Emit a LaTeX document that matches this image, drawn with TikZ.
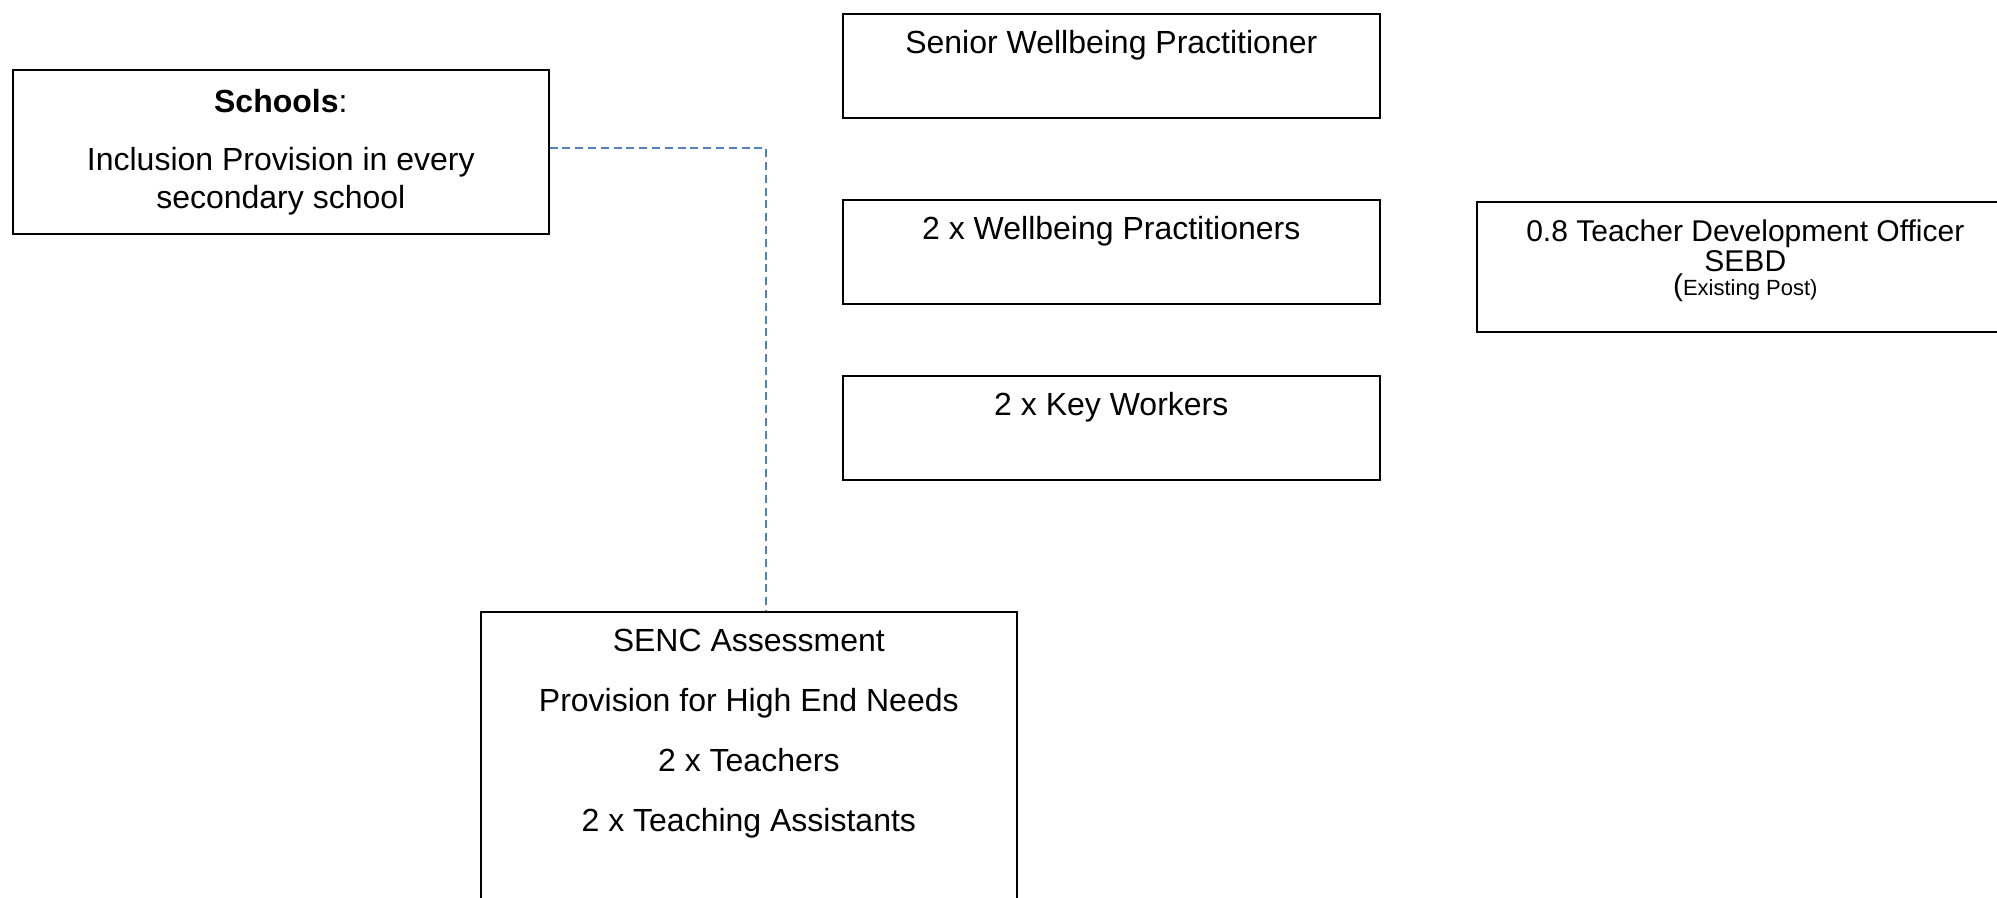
\documentclass[tikz,border=0pt]{standalone}
\usepackage{fontspec}
\setmainfont{Liberation Sans}
\usepackage{xcolor}
\usetikzlibrary{positioning}
\definecolor{linkblue}{HTML}{4F81BD}

% box text: [first line], width, height, lines
\newcommand{\unittext}[4][20pt]{\parbox[t][#3][t]{#2}{\centering\fontsize{16}{19}\selectfont\rule{0pt}{#1}#4}}

\tikzset{
    unit/.style={draw, line width=0.8pt, inner sep=0pt, anchor=north west},
    link/.style={draw=linkblue, line width=0.7pt, dash pattern=on 4pt off 2.4pt}
}

\begin{document}
\begin{tikzpicture}[x=0.5pt, y=-0.5pt]
    \useasboundingbox (0,0) rectangle (1997,898);

    % Schools
    \node[unit] (schools) at (12,69) {\unittext[21.5pt]{268pt}{82pt}{\textbf{Schools}:\\[10pt]Inclusion Provision in every\\secondary school}};

    % Wellbeing team
    \node[unit] (senior) at (842,13) {\unittext{268.5pt}{52pt}{Senior Wellbeing Practitioner}};
    \node[unit] (wellbeing) at (842,199) {\unittext{268.5pt}{52pt}{2 x Wellbeing Practitioners}};
    \node[unit] (keyworkers) at (842,375) {\unittext{268.5pt}{52pt}{2 x Key Workers}};

    % Teacher Development Officer
    \node[unit] (tdo) at (1476,201) {\unittext[20pt]{268.5pt}{65pt}{\fontsize{15}{15}\selectfont 0.8 Teacher Development Officer\\SEBD\\[-1pt](\fontsize{11}{13}\selectfont Existing Post)}};

    % SENC
    \node[unit] (senc) at (480,611) {\unittext{268pt}{170pt}{SENC Assessment\\[11pt]Provision for High End Needs\\[11pt]2 x Teachers\\[11pt]2 x Teaching Assistants}};

    % dashed link schools -> SENC
    \coordinate (bend) at (766,148);
    \draw[link] (schools.east |- bend) -- (bend) -- (bend |- senc.north);
\end{tikzpicture}
\end{document}
